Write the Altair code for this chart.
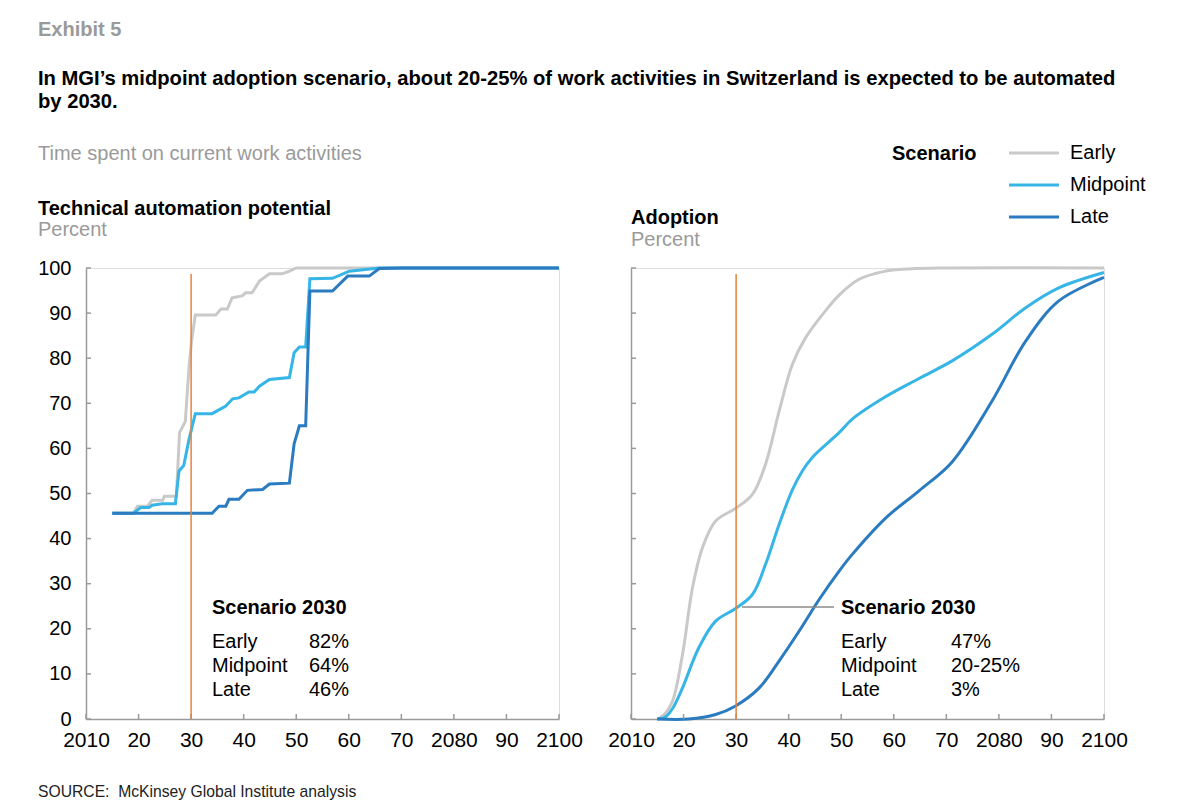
import altair as alt
import pandas as pd

FONT = "Liberation Sans"
AXIS = "#9a9a9a"
ORANGE = "#E8823A"
GRAY_TXT = "#9a9a9a"

scenarios = ["Early", "Midpoint", "Late"]
colors = ["#C9C9C9", "#36B5E6", "#2A7BC0"]

# Technical automation potential (percent of time)
tech_early_years = [2015, 2019.0, 2019.8, 2021.7, 2022.6, 2024.6, 2024.9, 2027.2, 2027.8, 2028.9, 2029.6, 2030.1, 2030.8,
                    2034.7, 2035.7, 2036.9, 2037.8, 2039.7, 2040.4, 2041.6, 2043.0, 2044.9, 2047.3, 2048.7, 2050.0, 2100]
tech_early_vals = [45.6, 45.6, 47.2, 47.2, 48.5, 48.5, 49.4, 49.4, 63.5, 66.0, 78.0, 84.0, 89.6,
                   89.6, 90.9, 90.9, 93.4, 93.8, 94.5, 94.5, 97.1, 98.7, 98.7, 99.3, 100, 100]

tech_mid_years = [2015, 2019.0, 2020.4, 2022.0, 2022.6, 2024.5, 2027.0, 2027.7, 2028.6, 2029.6, 2030.8, 2034.0,
                  2036.6, 2037.9, 2039.1, 2041.0, 2042.0, 2043.0, 2044.9, 2048.7, 2049.6, 2050.6, 2051.8, 2052.6,
                  2056.9, 2060.1, 2065.8, 2100]
tech_mid_vals = [45.6, 45.6, 46.9, 46.9, 47.4, 47.7, 47.7, 55.0, 56.2, 62.0, 67.7, 67.7,
                 69.4, 71.0, 71.2, 72.5, 72.5, 73.8, 75.3, 75.7, 81.2, 82.5, 82.5, 97.6,
                 97.7, 99.3, 100, 100]

tech_late_years = [2015, 2034.0, 2035.3, 2036.6, 2037.2, 2039.1, 2040.7, 2043.6, 2044.9, 2048.7, 2049.6, 2050.6,
                   2051.8, 2052.6, 2056.9, 2059.8, 2063.9, 2065.8, 2070.0, 2100]
tech_late_vals = [45.6, 45.6, 47.2, 47.2, 48.7, 48.7, 50.7, 50.9, 52.1, 52.3, 61.0, 65.0,
                  65.0, 94.9, 94.9, 98.2, 98.2, 99.9, 100, 100]

# Adoption (percent)
adopt_early_years = [2015.0, 2016.3, 2017.9, 2019.8, 2021.7, 2023.6, 2026.1, 2029.9, 2033.1, 2035.6, 2038.2,
                     2040.7, 2043.2, 2047.0, 2049.6, 2053.4, 2058.0, 2063.0, 2070.0, 2100]
adopt_early_vals = [0, 1.0, 4.0, 14.3, 29.1, 38.0, 43.9, 46.7, 49.8, 56.5, 68.3,
                    78.6, 84.5, 90.5, 94.0, 97.5, 99.2, 99.8, 100, 100]

adopt_mid_years = [2015.0, 2016.6, 2018.0, 2019.8, 2022.9, 2026.1, 2029.9, 2033.1, 2035.6, 2038.2, 2040.7,
                   2042.6, 2044.5, 2049.6, 2052.1, 2058.5, 2064.8, 2071.1, 2078.7, 2085.1, 2091.4, 2100]
adopt_mid_vals = [0, 0.5, 2.5, 6.9, 15.8, 21.7, 24.5, 27.6, 34.3, 43.2, 50.8,
                  55.0, 58.0, 63.5, 66.5, 71.5, 75.5, 79.4, 85.3, 91.2, 95.6, 99.0]

adopt_late_years = [2015.0, 2021.0, 2026.1, 2029.9, 2034.4, 2038.2, 2042.0, 2045.8, 2049.6, 2052.1, 2058.5,
                    2064.8, 2071.1, 2078.7, 2085.1, 2091.4, 2100]
adopt_late_vals = [0, 0, 1.0, 2.9, 6.9, 12.9, 19.5, 26.5, 32.8, 36.5, 44.6,
                   50.6, 57.0, 70.5, 83.8, 92.7, 97.9]

marker_year = [2030]
tech_2030 = ["82%", "64%", "46%"]
adopt_2030 = ["47%", "20-25%", "3%"]

x_ticks = [2010, 2020, 2030, 2040, 2050, 2060, 2070, 2080, 2090, 2100]
x_tick_labels = ["2010", "20", "30", "40", "50", "60", "70", "2080", "90", "2100"]
y_ticks = [0, 10, 20, 30, 40, 50, 60, 70, 80, 90, 100]

W, H = 473, 451
FS = 20

x_scale = alt.Scale(domain=[2010, 2100], nice=False, zero=False)
y_scale = alt.Scale(domain=[0, 100], nice=False)
color_scale = alt.Scale(domain=scenarios, range=colors)

label_expr = "[" + ",".join("'%s'" % s for s in x_tick_labels) + "][round((datum.value-2010)/10)]"

x_axis = alt.Axis(values=x_ticks, labelExpr=label_expr, ticks=False, tickSize=0, domainColor=AXIS,
                  domainWidth=1.5, grid=False, labelFontSize=21, labelColor="#000", labelFont=FONT,
                  labelPadding=10, title=None, labelOverlap=False, labelFlush=False)


def y_axis(show_labels):
    return alt.Axis(values=y_ticks, ticks=False, tickSize=0, domainColor=AXIS, domainWidth=1.5, grid=False,
                    labels=show_labels, labelFontSize=20, labelColor="#000", labelFont=FONT,
                    labelPadding=15, title=None, labelBaseline="middle")


one = pd.DataFrame({"k": [0]})


def txt(text, x, y, size=FS, color="#000", weight="normal", align="left", baseline="alphabetic", line_height=None):
    kw = dict(text=text, fontSize=size, color=color, fontWeight=weight, align=align, baseline=baseline, font=FONT)
    if line_height:
        kw["lineHeight"] = line_height
    return alt.Chart(one).mark_text(**kw).encode(x=alt.value(x), y=alt.value(y))


def panel(series, interp, show_labels):
    ya = y_axis(show_labels)
    layers = []
    for name, (yrs, vals) in zip(scenarios, series):
        df = pd.DataFrame({"year": yrs, "value": vals, "scenario": name})
        layers.append(
            alt.Chart(df).mark_line(strokeWidth=3, interpolate=interp).encode(
                x=alt.X("year:Q", scale=x_scale, axis=x_axis),
                y=alt.Y("value:Q", scale=y_scale, axis=ya),
                color=alt.Color("scenario:N", scale=color_scale, legend=None),
            )
        )
    # inward ticks
    layers.append(
        alt.Chart(pd.DataFrame({"value": y_ticks})).mark_rule(color=AXIS, strokeWidth=1.5).encode(
            y=alt.Y("value:Q", scale=y_scale, axis=ya), x=alt.value(0), x2=alt.value(5))
    )
    layers.append(
        alt.Chart(pd.DataFrame({"year": x_ticks})).mark_rule(color=AXIS, strokeWidth=1.5).encode(
            x=alt.X("year:Q", scale=x_scale, axis=x_axis), y=alt.value(H), y2=alt.value(H - 5))
    )
    # 2030 marker
    layers.append(
        alt.Chart(pd.DataFrame({"year": marker_year})).mark_rule(color=ORANGE, strokeWidth=1.5).encode(
            x=alt.X("year:Q", scale=x_scale, axis=x_axis), y=alt.value(6), y2=alt.value(H))
    )
    return layers


left_layers = panel([(tech_early_years, tech_early_vals), (tech_mid_years, tech_mid_vals),
                     (tech_late_years, tech_late_vals)], "linear", True)
left_layers += [
    txt("Exhibit 5", -48, -232, color=GRAY_TXT, weight="bold"),
    txt(["In MGI\u2019s midpoint adoption scenario, about 20-25% of work activities in Switzerland is expected to be automated",
         "by 2030."], -48, -183, size=20.2, weight="bold", line_height=23),
    txt("Time spent on current work activities", -48, -108, color=GRAY_TXT),
    txt("Technical automation potential", -48, -53, weight="bold"),
    txt("Percent", -48, -32, color=GRAY_TXT),
    txt("Scenario 2030", 126, 346, weight="bold"),
    txt(scenarios, 126, 380, line_height=24),
    txt(tech_2030, 223, 380, line_height=24),
    txt("SOURCE:\u00a0 McKinsey Global Institute analysis", -48, 529, size=15.7, color="#222"),
]
left = alt.layer(*left_layers).properties(width=W, height=H)

right_layers = panel([(adopt_early_years, adopt_early_vals), (adopt_mid_years, adopt_mid_vals),
                      (adopt_late_years, adopt_late_vals)], "catmull-rom", False)
right_layers += [
    txt("Adoption", 0, -44, weight="bold"),
    txt("Percent", 0, -22, color=GRAY_TXT),
    alt.Chart(one).mark_rule(color="#8a8a8a", strokeWidth=1.5).encode(
        x=alt.value(111), x2=alt.value(203), y=alt.value(339)),
    txt("Scenario 2030", 210, 346, weight="bold"),
    txt(scenarios, 210, 380, line_height=24),
    txt(adopt_2030, 320, 380, line_height=24),
    txt("Scenario", 261, -108, weight="bold"),
]
for i, (name, col) in enumerate(zip(scenarios, colors)):
    yy = -115 + 32 * i
    right_layers.append(
        alt.Chart(one).mark_rule(color=col, strokeWidth=3).encode(x=alt.value(378), x2=alt.value(428), y=alt.value(yy))
    )
    right_layers.append(txt(name, 439, yy, baseline="middle"))
right = alt.layer(*right_layers).properties(width=W, height=H)

chart = alt.hconcat(left, right, spacing=72, bounds="flush").properties(
    padding={"left": 29, "top": 11, "right": 5, "bottom": 5}
).configure_view(stroke=None).configure(background="white")

chart.save("out.html", embed_options={"renderer": "svg", "actions": False})
